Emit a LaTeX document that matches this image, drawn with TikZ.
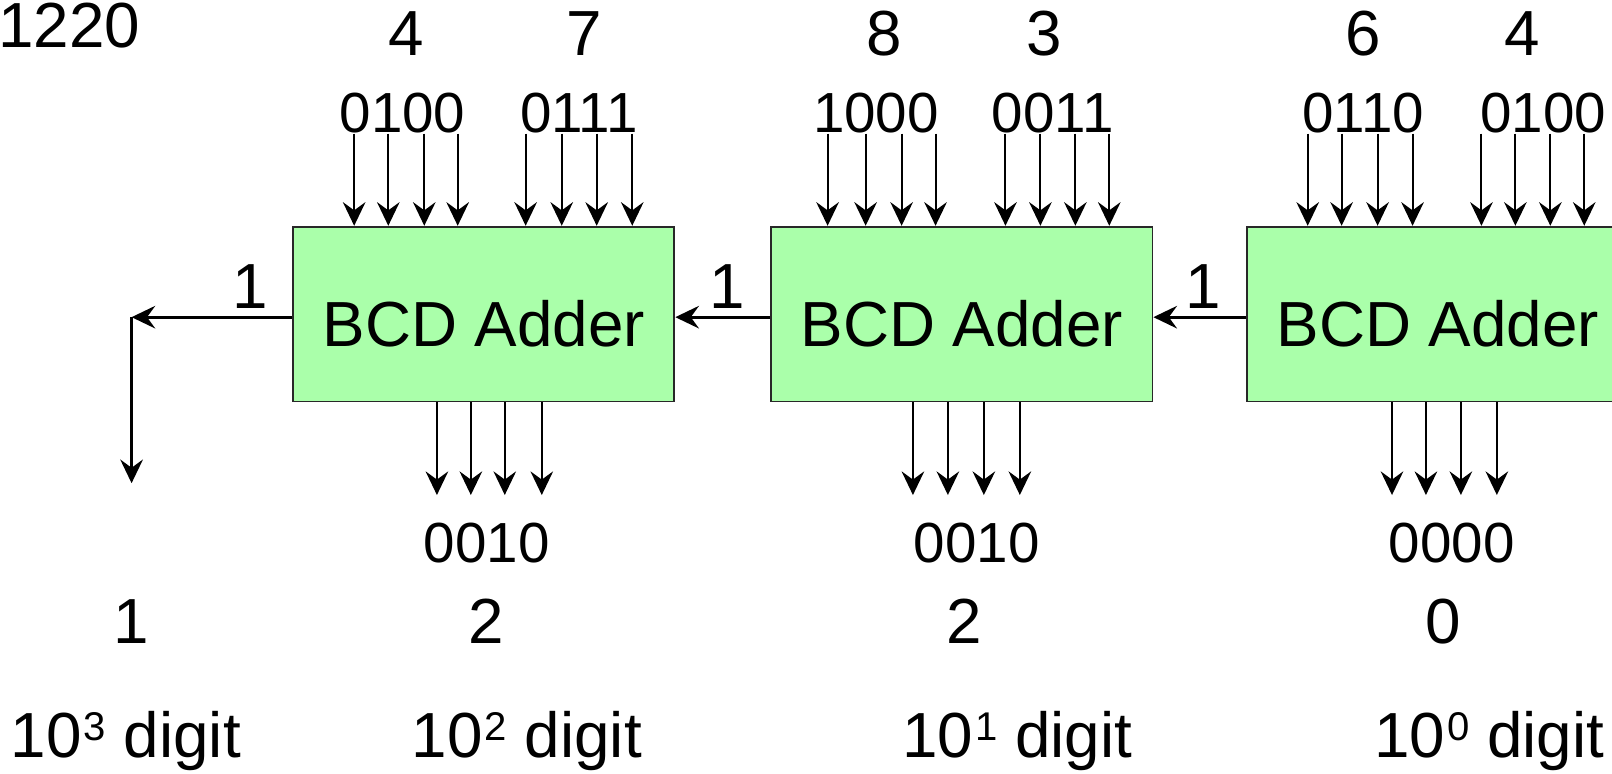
\documentclass[tikz,border=0pt]{standalone}
\usepackage{fontspec}
\setmainfont{Liberation Sans}
\usetikzlibrary{arrows.meta}
\definecolor{adgreen}{RGB}{170,255,170}
\definecolor{edge}{RGB}{40,40,40}
\newcommand{\supdig}[1]{\hspace{1pt}\raisebox{8.2pt}{\fontsize{19.5}{20}\selectfont #1}}
\begin{document}
\begin{tikzpicture}[x=0.5pt,y=-0.5pt,
  adder/.style={draw=edge, line width=0.9pt, fill=adgreen, minimum width=185.5pt,
    minimum height=85pt, inner sep=0pt, text height=31.6pt, text depth=0pt,
    font=\fontsize{31}{36}\selectfont},
  big/.style={inner sep=0pt, font=\fontsize{31}{36}\selectfont, anchor=base},
  small/.style={inner sep=0pt, font=\fontsize{27.5}{32}\selectfont, anchor=base},
  wire/.style={line width=1pt, -{Stealth[length=11.5pt,width=11pt,inset=4pt]}},
  carry/.style={line width=1.3pt, -{Stealth[length=11.5pt,width=11pt,inset=4pt]}}]
\useasboundingbox (0,0) rectangle (1568,752);
\clip (0,0) rectangle (1568,752);

% boxes
\node[adder] (b1) at (470.5,305.5) {BCD Adder};
\node[adder] (b2) at (935.5,305.5) {BCD Adder};
\node[adder] (b3) at (1398.5,305.5) {BCD Adder};

% top labels
\node[big, anchor=base west] (sum) at (-2,46) {1220};
\node[big] (d1) at (395,53.5) {4};
\node[big] (d2) at (568,53.5) {7};
\node[big] (d3) at (860,53.5) {8};
\node[big] (d4) at (1016,53.5) {3};
\node[big] (d5) at (1326,53.5) {6};
\node[big] (d6) at (1481,53.5) {4};

\node[small] (i1) at (391.5,129) {0100};
\node[small] (i2) at (563,129) {0111};
\node[small] (i3) at (852,129) {1000};
\node[small] (i4) at (1024,129) {0011};
\node[small] (i5) at (1326,129) {0110};
\node[small] (i6) at (1501,129) {0100};

% input wires
\foreach \x in {344.5,377.7,412.7,445.2,511.3,546.4,580.4,615}{
  \coordinate (s) at (\x,130);
  \draw[wire] (s) -- (s |- b1.north);}
\foreach \x in {805,842,877,910,978,1012,1046,1079}{
  \coordinate (s) at (\x,130);
  \draw[wire] (s) -- (s |- b2.north);}
\foreach \x in {1272,1305,1340,1374,1441,1474,1508,1541}{
  \coordinate (s) at (\x,130);
  \draw[wire] (s) -- (s |- b3.north);}

% output wires
\foreach \x in {425,458,491,527}{
  \coordinate (e) at (\x,481.5);
  \draw[wire] (e |- b1.south) -- (e);}
\foreach \x in {888,922,957,992}{
  \coordinate (e) at (\x,481.5);
  \draw[wire] (e |- b2.south) -- (e);}
\foreach \x in {1354,1387,1421,1456}{
  \coordinate (e) at (\x,481.5);
  \draw[wire] (e |- b3.south) -- (e);}

% carries
\coordinate (cy) at (0,308.5);
\coordinate (cc) at (128,308.5);
\coordinate (co) at (128,470);
\draw[carry] (b3.west |- cy) -- (b2.east |- cy);
\draw[carry] (b2.west |- cy) -- (b1.east |- cy);
\draw[carry] (b1.west |- cy) -- (cc);
\draw[carry] (cc) -- (co);

\node[big] (c1) at (243,299.6) {1};
\node[big] (c2) at (707,299.6) {1};
\node[big] (c3) at (1170,299.6) {1};

% outputs
\node[small] (o1) at (473.5,547.6) {0010};
\node[small] (o2) at (950,547.6) {0010};
\node[small] (o3) at (1412,547.6) {0000};

\node[big] (r0) at (128,625.5) {1};
\node[big] (r1) at (473,625.5) {2};
\node[big] (r2) at (938,625.5) {2};
\node[big] (r3) at (1404,625.5) {0};

\node[big] (p3) at (122.5,737) {10\supdig{3} digit};
\node[big] (p2) at (512.5,737) {10\supdig{2} digit};
\node[big] (p1) at (989.5,737) {10\supdig{1} digit};
\node[big] (p0) at (1448.5,737) {10\supdig{0} digit};
\end{tikzpicture}
\end{document}
